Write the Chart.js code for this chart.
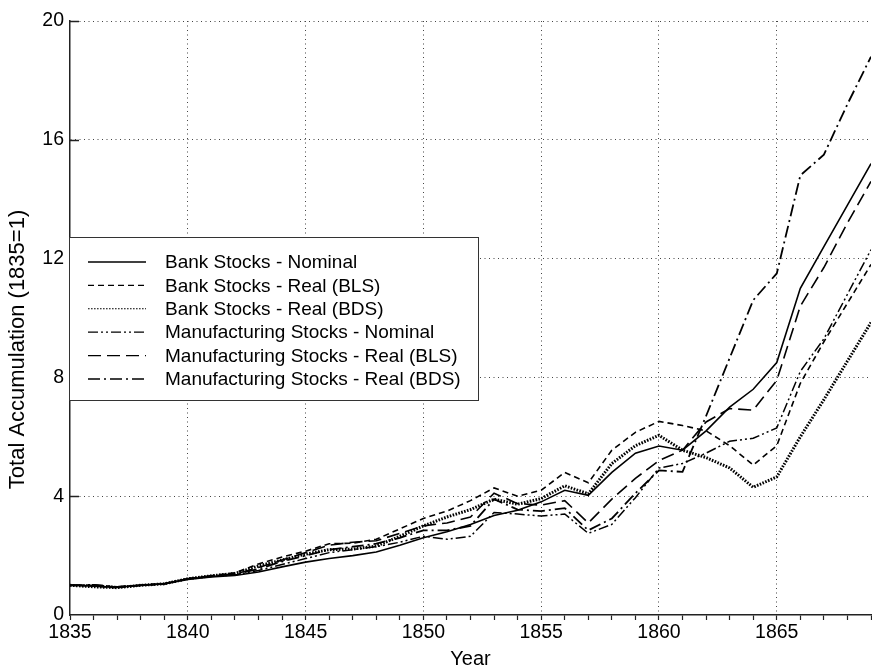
<!DOCTYPE html>
<html>
<head>
<meta charset="utf-8">
<script src="https://cdn.jsdelivr.net/npm/chart.js@4/dist/chart.umd.min.js"></script>
<style>
  html, body { margin: 0; padding: 0; background: #fff; }
  #wrap { width: 872px; height: 671px; position: relative; }
</style>
</head>
<body>
<div id="wrap"><canvas id="c"></canvas></div>
<script>
// Total accumulation of bank and manufacturing stocks, 1835 = 1
const years = [1835,1836,1837,1838,1839,1840,1841,1842,1843,1844,1845,1846,1847,1848,1849,1850,1851,1852,
               1853,1854,1855,1856,1857,1858,1859,1860,1861,1862,1863,1864,1865,1866,1867,1868,1869];

const bankNominal = [1.00,0.97,0.93,1.00,1.05,1.20,1.28,1.33,1.45,1.62,1.78,1.90,2.00,2.12,2.35,2.60,2.80,3.05,
                     3.35,3.53,3.81,4.20,4.03,4.80,5.45,5.69,5.55,6.20,7.00,7.60,8.50,11.00,12.40,13.80,15.20];
const bankRealBLS = [1.00,0.98,0.92,1.00,1.05,1.22,1.32,1.42,1.72,1.95,2.15,2.40,2.42,2.55,2.90,3.25,3.50,3.85,
                     4.28,4.00,4.20,4.80,4.45,5.55,6.15,6.52,6.38,6.20,5.70,5.05,5.70,7.80,9.20,10.50,11.80];
const bankRealBDS = [1.00,0.95,0.92,1.00,1.05,1.22,1.32,1.40,1.65,1.85,2.05,2.20,2.22,2.32,2.65,3.00,3.30,3.55,
                     3.90,3.73,3.92,4.35,4.08,5.10,5.70,6.05,5.55,5.30,4.95,4.30,4.65,6.00,7.25,8.55,9.85];
const mfgNominal  = [1.00,1.02,0.95,1.00,1.05,1.22,1.30,1.35,1.50,1.70,1.90,2.10,2.20,2.30,2.45,2.65,2.55,2.65,
                     3.45,3.40,3.33,3.40,2.75,3.05,3.95,4.95,5.10,5.45,5.85,5.95,6.30,8.20,9.30,10.80,12.30];
const mfgRealBLS  = [1.00,1.00,0.94,1.00,1.05,1.22,1.32,1.38,1.60,1.85,2.10,2.35,2.45,2.50,2.75,3.00,3.10,3.30,
                     4.10,3.75,3.70,3.85,3.10,3.90,4.60,5.20,5.55,6.50,6.95,6.90,7.90,10.40,11.70,13.20,14.60];
const mfgRealBDS  = [1.00,1.01,0.95,1.00,1.05,1.22,1.31,1.37,1.55,1.80,2.00,2.20,2.30,2.40,2.60,2.85,2.85,3.00,
                     3.90,3.55,3.50,3.60,2.85,3.25,4.10,4.87,4.82,6.70,8.65,10.60,11.50,14.80,15.50,17.20,18.80];

const seriesNames = [
  'Bank Stocks - Nominal',
  'Bank Stocks - Real (BLS)',
  'Bank Stocks - Real (BDS)',
  'Manufacturing Stocks - Nominal',
  'Manufacturing Stocks - Real (BLS)',
  'Manufacturing Stocks - Real (BDS)'
];
const yTickValues = [0, 4, 8, 12, 16, 20];
const xLabelYears = [1835, 1840, 1845, 1850, 1855, 1860, 1865];
const yTitle = 'Total Accumulation (1835=1)';
const xTitle = 'Year';

const FONT = '"Liberation Sans", Arial, Helvetica, sans-serif';

const styles = [
  { width: 1.6, dash: [],                  legendWidth: 1.4 },
  { width: 1.6, dash: [6, 4],              legendWidth: 1.4 },
  { width: 3.0, dash: [1.6, 1.4],          legendWidth: 1.1 },
  { width: 1.5, dash: [10, 3, 2, 3, 2, 3], legendWidth: 1.2 },
  { width: 1.6, dash: [13, 6],             legendWidth: 1.4 },
  { width: 1.8, dash: [12, 4, 2, 4],       legendWidth: 1.6 }
];
const values = [bankNominal, bankRealBLS, bankRealBDS, mfgNominal, mfgRealBLS, mfgRealBDS];

const datasets = values.map((v, i) => ({
  label: seriesNames[i],
  data: years.map((y, k) => ({ x: y, y: v[k] })),
  borderColor: '#000',
  borderWidth: styles[i].width,
  borderDash: styles[i].dash,
  legendWidth: styles[i].legendWidth,
  pointRadius: 0,
  tension: 0,
  fill: false
}));

// inward tick marks on the value axis, rotated axis title and boxed legend
const decorations = {
  id: 'decorations',
  afterDatasetsDraw(chart) {
    const ctx = chart.ctx;
    const ca = chart.chartArea;
    const ys = chart.scales.y;
    ctx.save();

    // inward ticks on y axis
    ctx.strokeStyle = '#222';
    ctx.lineWidth = 1.5;
    yTickValues.forEach(v => {
      if (v === 0) return;
      const py = Math.round(ys.getPixelForValue(v)) + 0.5;
      ctx.beginPath();
      ctx.moveTo(ca.left, py);
      ctx.lineTo(ca.left + 9, py);
      ctx.stroke();
    });

    // y-axis title
    ctx.fillStyle = '#000';
    ctx.font = '22px ' + FONT;
    ctx.textAlign = 'center';
    ctx.textBaseline = 'middle';
    ctx.translate(18, ca.top + (ca.bottom - ca.top) * 0.553);
    ctx.rotate(-Math.PI / 2);
    ctx.fillText(yTitle, 0, 0);
    ctx.restore();

    // legend box
    ctx.save();
    const bx = ca.left - 0.5, by = 237.5, bw = 409, bh = 163;
    ctx.fillStyle = '#fff';
    ctx.fillRect(bx, by, bw, bh);
    ctx.strokeStyle = '#333';
    ctx.lineWidth = 1;
    ctx.strokeRect(bx, by, bw, bh);
    ctx.font = '19px ' + FONT;
    ctx.textAlign = 'left';
    ctx.textBaseline = 'middle';
    ctx.fillStyle = '#000';
    chart.data.datasets.forEach((ds, i) => {
      const ry = 262 + i * 23.4;
      ctx.beginPath();
      ctx.setLineDash(ds.borderDash);
      ctx.lineWidth = ds.legendWidth;
      ctx.strokeStyle = '#000';
      ctx.moveTo(88, ry);
      ctx.lineTo(146, ry);
      ctx.stroke();
      ctx.setLineDash([]);
      ctx.fillText(ds.label, 165, ry + 1);
    });
    ctx.restore();
  }
};

new Chart(document.getElementById('c'), {
  type: 'line',
  data: { datasets },
  options: {
    responsive: true,
    maintainAspectRatio: false,
    animation: false,
    devicePixelRatio: 1,
    layout: { padding: { top: 21, right: 0, bottom: 0, left: 0 } },
    plugins: { legend: { display: false }, tooltip: { enabled: false } },
    scales: {
      x: {
        type: 'linear',
        min: 1835,
        max: 1869,
        afterFit(s) { s.height = 56; },
        ticks: {
          stepSize: 1,
          autoSkip: false,
          maxRotation: 0,
          padding: 1,
          color: '#000',
          font: { family: FONT, size: 19.5 },
          callback: v => (xLabelYears.includes(v) ? String(v) : '')
        },
        grid: {
          color: c => (c.tick && c.tick.value % 5 === 0 && c.tick.value !== 1835 ? '#444' : 'rgba(0,0,0,0)'),
          lineWidth: 1,
          drawTicks: true,
          tickLength: 5,
          tickColor: '#222',
          tickWidth: 1.2
        },
        border: { display: true, color: '#222', width: 1.5, dash: [1, 3.5] },
        title: {
          display: true,
          text: xTitle,
          color: '#000',
          font: { family: FONT, size: 20 },
          padding: { top: 0, bottom: 0 }
        }
      },
      y: {
        type: 'linear',
        min: 0,
        max: 20,
        afterFit(s) { s.width = 70; },
        afterBuildTicks(s) { s.ticks = yTickValues.map(v => ({ value: v })); },
        ticks: {
          padding: 6,
          color: '#000',
          font: { family: FONT, size: 19.5 }
        },
        grid: {
          color: c => (c.tick && c.tick.value > 0 ? '#444' : 'rgba(0,0,0,0)'),
          lineWidth: 1,
          drawTicks: false
        },
        border: { display: true, color: '#222', width: 1.5, dash: [1, 3.5] }
      }
    }
  },
  plugins: [decorations]
});
</script>
</body>
</html>
